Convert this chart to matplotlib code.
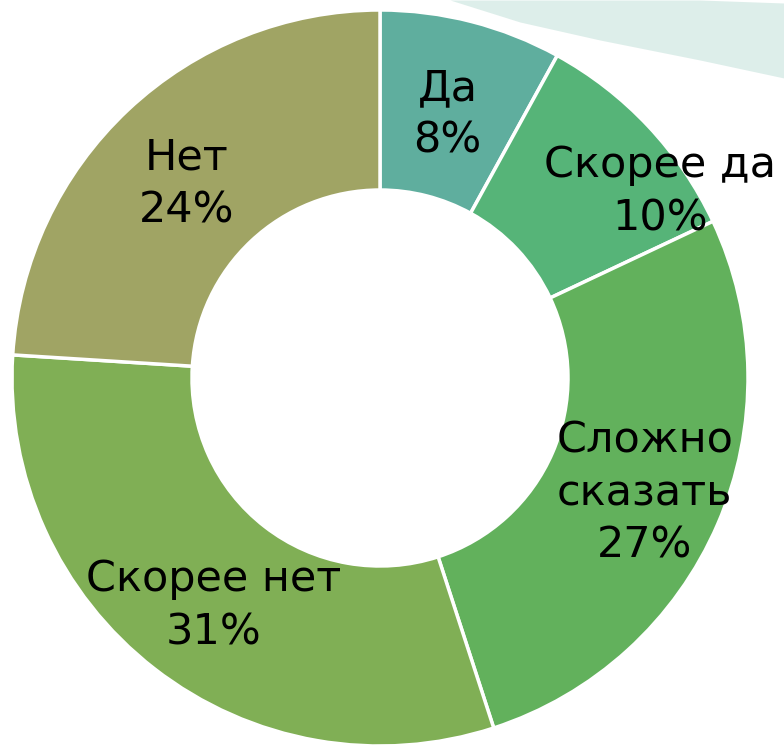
import numpy as np
import matplotlib.pyplot as plt

categories = ["Да", "Скорее да", "Сложно\nсказать", "Скорее нет", "Нет"]
shares = [8, 10, 27, 31, 24]
colors = ["#5FAE9E", "#56B478", "#62B15C", "#80AF55", "#A0A464"]

# label nudges in pixels (x, y-up), Excel pushed some labels around
nudges = [(0, 0), (82, 0), (15, -7), (0, -13), (-7, -4)]

W, H = 784, 747
cx, cy = 380, H - 378
r_out, r_in = 368, 188

fig = plt.figure(figsize=(W / 100, H / 100), dpi=100)
ax = fig.add_axes([0, 0, 1, 1])

# light teal swoosh in the top right corner of the slide
sx = np.array([450, 520, 600, 700, 784])
sy_low = np.array([0, 22, 40, 60, 78])
sy_top = np.array([0, 0, 0, 0, 3])
ax.fill_between(sx, H - sy_low, H - sy_top, color="#DDEEEA", lw=0, zorder=0)

wedges, _ = ax.pie(shares, colors=colors, startangle=90, counterclock=False,
                   radius=r_out, center=(cx, cy), frame=False,
                   wedgeprops=dict(width=r_out - r_in, edgecolor="white", linewidth=2.5))

cum = np.cumsum([0] + shares[:-1])
for cat, v, c0, (dx, dy) in zip(categories, shares, cum, nudges):
    theta = np.deg2rad(90 - 360 * (c0 + v / 2) / 100)
    x = cx + 272 * np.cos(theta) + dx
    y = cy + 272 * np.sin(theta) + dy
    ax.text(x, y, f"{cat}\n{v}%", ha="center", va="center", fontsize=31,
            family="DejaVu Sans", color="black", linespacing=1.33)

ax.set_xlim(0, W)
ax.set_ylim(0, H)
ax.set_aspect("auto")
ax.axis("off")

fig.savefig("out.png", dpi=100)
